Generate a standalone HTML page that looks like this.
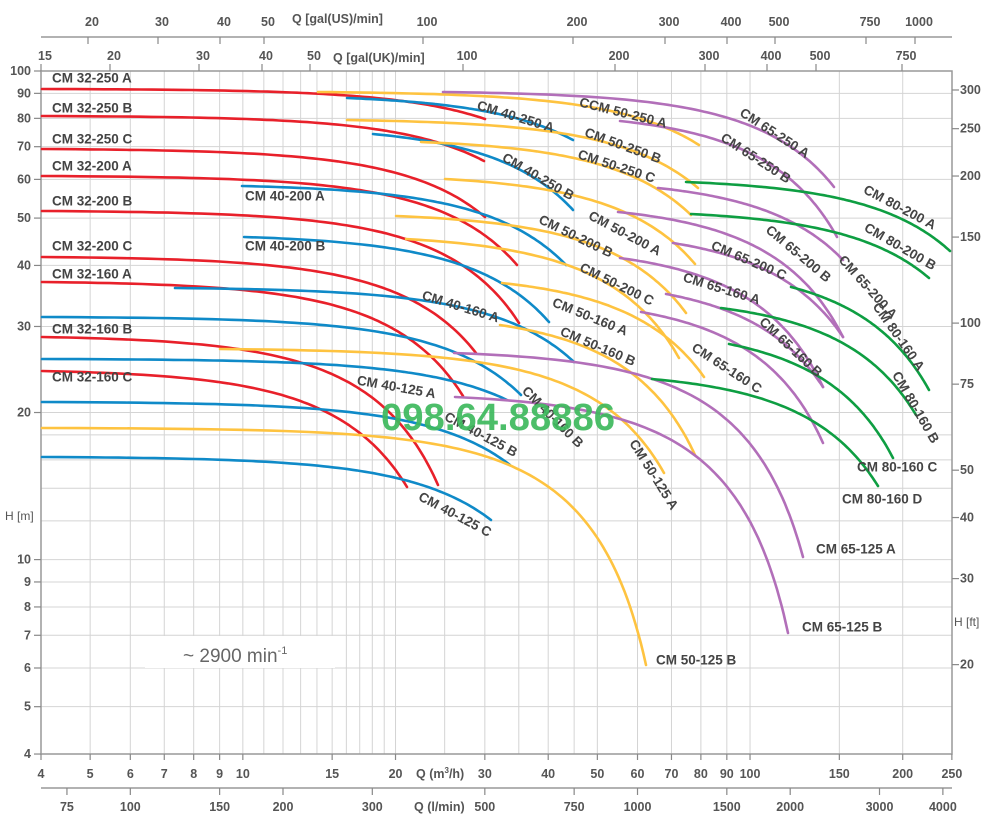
<!DOCTYPE html>
<html><head><meta charset="utf-8"><style>
body{margin:0;background:#fff;}
svg{display:block;font-family:"Liberation Sans",sans-serif;}
</style></head><body>
<svg id="s" width="1000" height="828" viewBox="0 0 1000 828" xmlns="http://www.w3.org/2000/svg"></svg>
<script>
const s=document.getElementById('s');
function X(q){return 41+507.2*Math.log10(q/4);}
function Qx(x){return 4*Math.pow(10,(x-41)/507.2);}
function Y(h){return 71+488.6*Math.log10(100/h);}
function Hy(y){return 100*Math.pow(10,-(y-71)/488.6);}
let out='';
const TC='#555';
const qs=[5,6,7,8,9,10,11,12,13,14,15,16,17,18,19,20,25,30,35,40,45,50,60,70,80,90,100,150,200];
qs.forEach(q=>{out+=`<line x1="${X(q)}" y1="71" x2="${X(q)}" y2="754" stroke="#d4d4d4" stroke-width="1"/>`;});
const hs=[5,6,7,8,9,10,12,14,16,18,20,30,40,50,60,70,80,90];
hs.forEach(h=>{out+=`<line x1="41" y1="${Y(h)}" x2="952" y2="${Y(h)}" stroke="#d4d4d4" stroke-width="1"/>`;});
out+=`<rect x="41" y="71" width="911" height="683" fill="none" stroke="#999" stroke-width="1.5"/>`;
[4,5,6,7,8,9,10,20,30,40,50,60,70,80,90,100].forEach(h=>{const y=Y(h);
 out+=`<line x1="34" y1="${y}" x2="41" y2="${y}" stroke="#888" stroke-width="1.2"/>`;
 out+=`<text x="31" y="${y+4}" font-size="12.5" font-weight="600" fill="${TC}" text-anchor="end">${h}</text>`;});
out+=`<text x="5" y="520" font-size="12" fill="${TC}">H [m]</text>`;
[20,30,40,50,75,100,150,200,250,300].forEach(f=>{const y=Y(f*0.3048);
 out+=`<line x1="952" y1="${y}" x2="959" y2="${y}" stroke="#888" stroke-width="1.2"/>`;
 out+=`<text x="960" y="${y+4}" font-size="12.5" font-weight="600" fill="${TC}">${f}</text>`;});
out+=`<text x="954" y="626" font-size="12" fill="${TC}">H [ft]</text>`;
[[4,'4'],[5,'5'],[6,'6'],[7,'7'],[8,'8'],[9,'9'],[10,'10'],[15,'15'],[20,'20'],[30,'30'],[40,'40'],[50,'50'],[60,'60'],[70,'70'],[80,'80'],[90,'90'],[100,'100'],[150,'150'],[200,'200'],[250,'250']].forEach(([q,t])=>{const x=X(q);
 out+=`<line x1="${x}" y1="754" x2="${x}" y2="760" stroke="#888" stroke-width="1.2"/>`;
 out+=`<text x="${x}" y="778" font-size="12.5" font-weight="600" fill="${TC}" text-anchor="middle">${t}</text>`;});
out+=`<text x="416" y="778" font-size="12.5" font-weight="600" fill="${TC}">Q (m<tspan font-size="8" dy="-5">3</tspan><tspan dy="5">/h)</tspan></text>`;
out+=`<line x1="41" y1="788" x2="952" y2="788" stroke="#999" stroke-width="1.5"/>`;
[75,100,150,200,300,500,750,1000,1500,2000,3000,4000].forEach(l=>{const x=X(l*0.06);
 out+=`<line x1="${x}" y1="788" x2="${x}" y2="795" stroke="#888" stroke-width="1.2"/>`;
 out+=`<text x="${x}" y="811" font-size="12.5" font-weight="600" fill="${TC}" text-anchor="middle">${l}</text>`;});
out+=`<rect x="412" y="798" width="62" height="16" fill="#fff"/><text x="414" y="811" font-size="12.5" font-weight="600" fill="${TC}">Q (l/min)</text>`;
out+=`<line x1="41" y1="37" x2="952" y2="37" stroke="#999" stroke-width="1.5"/>`;
[[88,'20'],[158,'30'],[220,'40'],[264,'50'],[423,'100'],[573,'200'],[665,'300'],[727,'400'],[775,'500'],[866,'750'],[915,'1000']].forEach(([x,t])=>{
 out+=`<line x1="${x}" y1="37" x2="${x}" y2="44" stroke="#888" stroke-width="1.2"/>`;
 out+=`<text x="${x+4}" y="26" font-size="12.5" font-weight="600" fill="${TC}" text-anchor="middle">${t}</text>`;});
out+=`<text x="292" y="23" font-size="12.5" font-weight="600" fill="${TC}">Q [gal(US)/min]</text>`;
[[41,'15'],[110,'20'],[199,'30'],[262,'40'],[310,'50'],[463,'100'],[615,'200'],[705,'300'],[767,'400'],[816,'500'],[902,'750']].forEach(([x,t])=>{
 out+=`<line x1="${x}" y1="64" x2="${x}" y2="71" stroke="#888" stroke-width="1.2"/>`;
 out+=`<text x="${x+4}" y="60" font-size="12.5" font-weight="600" fill="${TC}" text-anchor="middle">${t}</text>`;});
out+=`<text x="333" y="62" font-size="12.5" font-weight="600" fill="${TC}">Q [gal(UK)/min]</text>`;
out+=`<rect x="145" y="636" width="190" height="32" fill="#fff"/>`;
out+=`<text x="183" y="662" font-size="19" fill="#666">~ 2900 min<tspan font-size="11" dy="-8">-1</tspan></text>`;
const R='#e8202a',B='#0f8ac8',Yl='#fec340',P='#b26fb9',G='#0e9e42';
const C=[
[R,42,89,485,119],[R,42,116,484,161],[R,42,149,485,217],[R,42,176,517,265],[R,42,211,519,323],[R,42,257,476,353],[R,42,282,463,396],[R,42,337,438,485],[R,42,371,407,487],
[B,347,98,573,140],[B,373,134,573,210],[B,242,186,566,265],[B,244,237,549,322],[B,175,288,574,362],[B,42,317,521,395],[B,42,359,507,400],[B,42,402,510,465],[B,42,457,491,520],
[Yl,318,92,699,145],[Yl,347,120,698,188],[Yl,421,142,691,215],[Yl,445,179,695,264],[Yl,396,216,686,313],[Yl,406,239,679,358],[Yl,502,283,704,377],[Yl,500,325,695,455],[Yl,220,349,664,473],[Yl,42,428,646,665],
[P,443,92,834,187],[P,620,121,837,237],[P,658,188,843,260],[P,618,212,843,337],[P,673,243,843,337],[P,620,258,823,387],[P,666,294,823,387],[P,641,312,823,443],[P,454,353,803,557],[P,455,397,788,633],
[G,686,182,950,251],[G,691,214,929,278],[G,791,287,929,390],[G,721,308,916,415],[G,729,344,893,458],[G,652,379,878,486]
];
const E=2.3;
C.forEach(([c,x0,y0,x1,y1])=>{
 const q0=Qx(x0),q1=Qx(x1),h0=Hy(y0),h1=Hy(y1);let d='';
 for(let i=0;i<=80;i++){const q=q0+(q1-q0)*i/80;const h=h0-(h0-h1)*(Math.pow(q,E)-Math.pow(q0,E))/(Math.pow(q1,E)-Math.pow(q0,E));
  d+=(i?'L':'M')+X(q).toFixed(1)+','+Y(h).toFixed(1);}
 out+=`<path d="${d}" fill="none" stroke="${c}" stroke-width="2.6" stroke-linecap="round"/>`;
});
const L=[
['CM 32-250 A',52,73,0],['CM 32-250 B',52,103,0],['CM 32-250 C',52,134,0],['CM 32-200 A',52,161,0],['CM 32-200 B',52,196,0],['CM 32-200 C',52,241,0],['CM 32-160 A',52,269,0],['CM 32-160 B',52,324,0],['CM 32-160 C',52,372,0],
['CM 40-200 A',245,191,0],['CM 40-200 B',245,241,0],
['CM 80-160 C',857,462,0],['CM 80-160 D',842,494,0],['CM 65-125 A',816,544,0],['CM 65-125 B',802,622,0],['CM 50-125 B',656,655,0],
['CM 40-250 A',479,100,17],['CCM 50-250 A',581,97,14],['CM 50-250 B',587,127,20],['CM 50-250 C',580,149,18],['CM 40-250 B',506,152,30],
['CM 65-250 A',744,107,33],['CM 65-250 B',725,132,33],['CM 80-200 A',867,184,28],['CM  80-200 B',868,222,30],
['CM 50-200 B',542,214,26],['CM 50-200 A',592,210,28],['CM  65-200 C',714,240,23],['CM 65-200 B',771,224,40],['CM 65-200 A',845,254,48],
['CM 50-200 C',583,262,26],['CM  65-160 A',685,272,17],['CM 40-160 A',424,290,17],['CM 50-160 A',555,297,22],['CM 80-160 A',880,301,55],
['CM 50-160 B',563,326,23],['CM 65-160 B',765,316,43],['CM  65-160 C',696,342,33],['CM 80-160 B',900,370,60],
['CM 40-125 A',358,375,10],['CM 40-160 B',528,385,45],['CM 40-125 B',448,411,28],['CM 50-125 A',637,438,58],['CM 40-125 C',422,491,28]
];
L.forEach(([t,x,y,a])=>{out+=`<text x="${x}" y="${y}" font-size="13.5" font-weight="bold" fill="#444" dominant-baseline="hanging" transform="rotate(${a} ${x} ${y})">${t}</text>`;});
out+=`<text x="381" y="430" font-size="38" font-weight="bold" fill="#3db85c" fill-opacity="0.92" textLength="234" lengthAdjust="spacingAndGlyphs" font-family="'Liberation Sans Narrow','Liberation Sans',sans-serif">098.64.88886</text>`;
s.innerHTML=out;
</script>
</body></html>
